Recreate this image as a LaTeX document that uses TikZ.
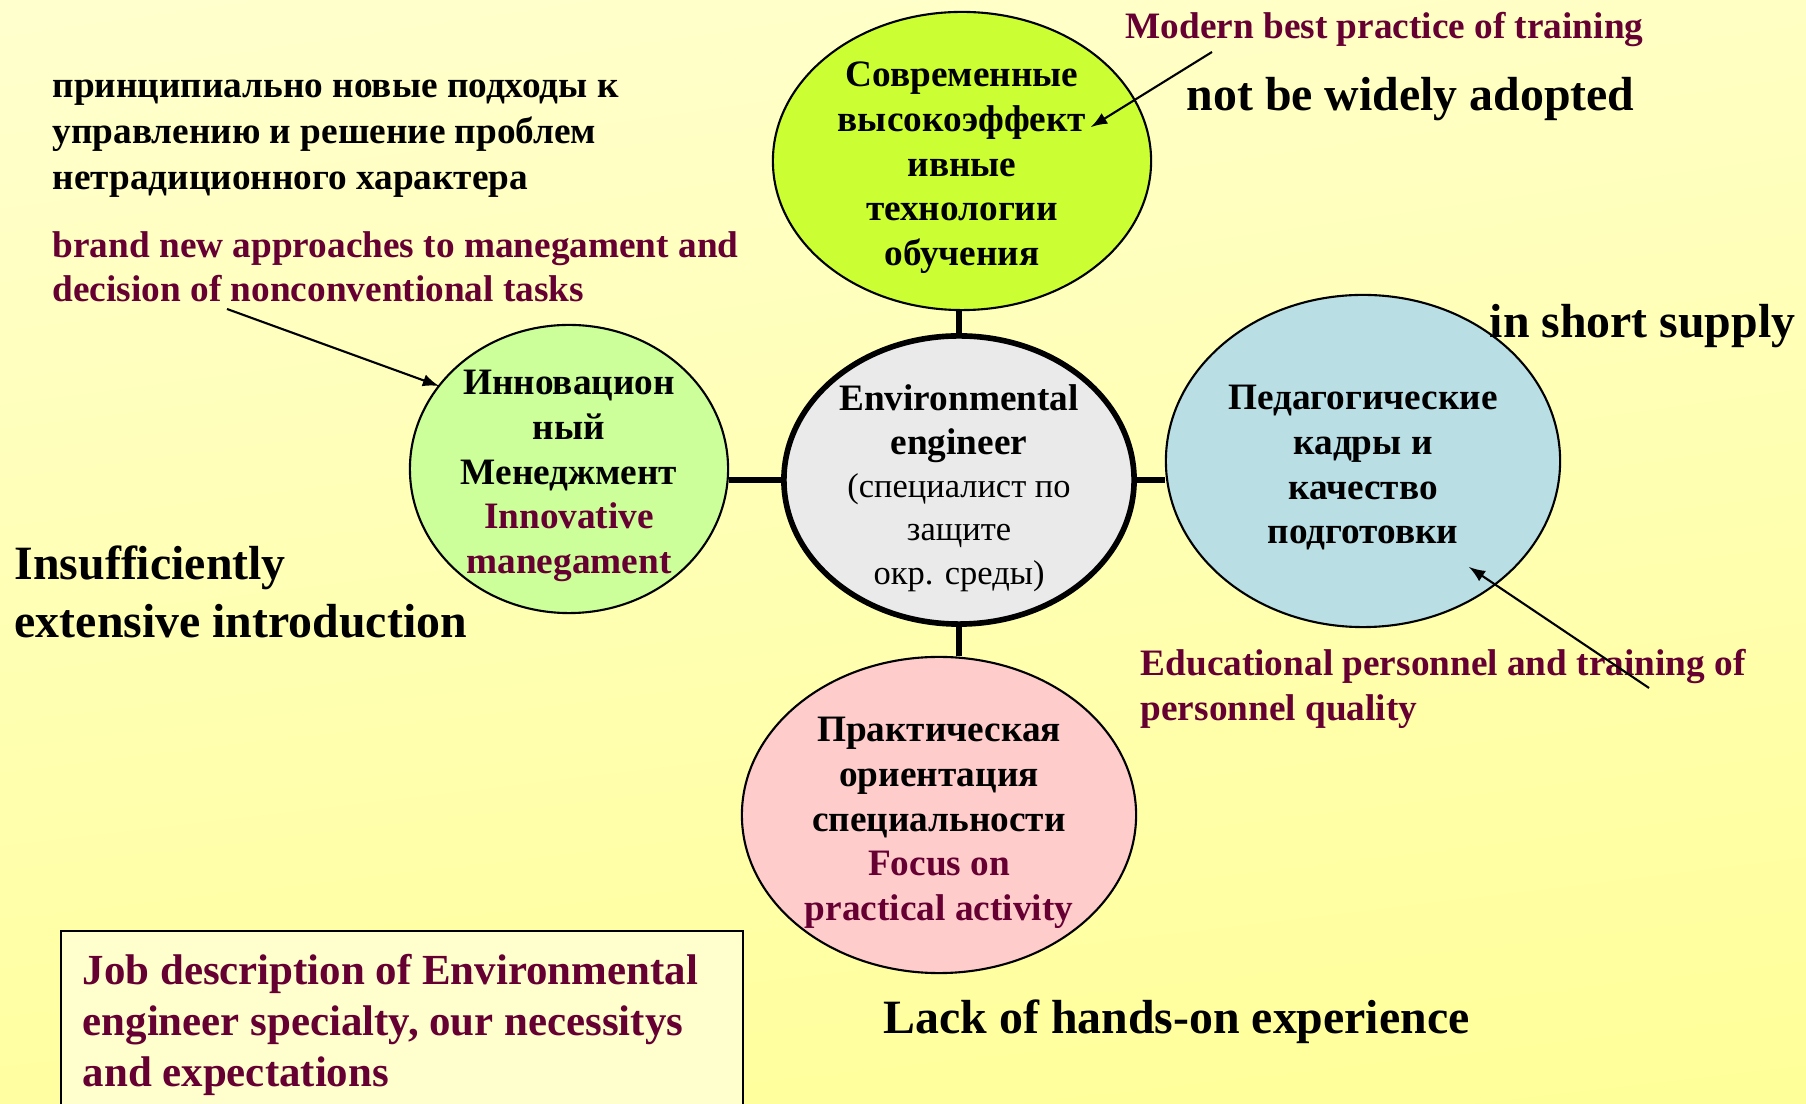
\documentclass[tikz,border=0pt]{standalone}
\usepackage{fontspec}
\setmainfont{Liberation Serif}
\usetikzlibrary{shapes.geometric,shadings}
\definecolor{maroon}{HTML}{660033}
\definecolor{bgtop}{HTML}{FFFFCE}
\definecolor{bgbot}{HTML}{FFFF99}
\colorlet{bgright}{bgtop!80!bgbot}
\colorlet{bgleft}{bgbot!85!bgtop}
\newcommand{\reg}[1]{{\mdseries\fontsize{9.8}{12}\selectfont #1}}
\tikzset{>=latex}
\tikzset{
  blob/.style = {ellipse, draw, line width=0.6pt, inner sep=0pt},
  txt/.style = {font=\bfseries\fontsize{10.6}{12.7}\selectfont, align=center, inner sep=0pt},
  note/.style = {font=\bfseries\fontsize{10.6}{12.6}\selectfont, align=left, anchor=west, inner sep=0pt},
  big/.style = {font=\bfseries\fontsize{13.6}{16.4}\selectfont, align=left, anchor=west, inner sep=0pt},
  link/.style = {line width=1.5pt},
  pointer/.style = {->, line width=0.6pt}
}

\begin{document}
\begin{tikzpicture}[x=0.01cm,y=-0.01cm]
  \useasboundingbox (0,0) rectangle (1806,1104);
  % background
  \shade[upper left=bgtop, upper right=bgright, lower left=bgleft, lower right=bgbot]
    (0,0) rectangle (1806,1104);
  % ellipses
  \node[blob, fill={rgb,255:red,204;green,255;blue,51}, minimum width=3.78cm, minimum height=2.98cm] (top) at (962,161) {};
  \node[blob, fill={rgb,255:red,204;green,255;blue,153}, minimum width=3.18cm, minimum height=2.88cm] (left) at (569,469) {};
  \node[blob, fill={rgb,255:red,234;green,234;blue,234}, line width=1.6pt, minimum width=3.50cm, minimum height=2.88cm] (env) at (959,480) {};
  \node[blob, fill={rgb,255:red,185;green,223;blue,229}, minimum width=3.94cm, minimum height=3.32cm] (right) at (1363,461) {};
  \node[blob, fill={rgb,255:red,255;green,204;blue,204}, minimum width=3.94cm, minimum height=3.16cm] (bottom) at (939,815) {};
  % links
  \draw[link] (env.north) -- (env.north |- top.south);
  \draw[link] (env.west) -- (env.west -| left.east);
  \draw[link] (env.east) -- (env.east -| right.west);
  \draw[link] (env.south) -- (env.south |- bottom.north);
  % ellipse texts
  \node[txt] (top-t) at ([yshift=-0.07cm]top) {Современные\\высокоэффект\\ивные\\технологии\\обучения};
  \node[txt] (left-t) at ([yshift=-0.07cm]left) {Инновацион\\ный\\Менеджмент\\\textcolor{maroon}{Innovative}\\\textcolor{maroon}{manegament}};
  \node[txt] (env-t) at ([yshift=-0.08cm]env) {Environmental\\engineer\\[-0.5pt]\reg{(специалист по}\\[-0.5pt]\reg{защите}\\[-0.3pt]\reg{окр. среды)}};
  \node[txt] (right-t) at ([yshift=-0.07cm]right) {Педагогические\\кадры и\\качество\\подготовки};
  \node[txt] (bottom-t) at ([yshift=-0.08cm]bottom) {Практическая\\ориентация\\специальности\\\textcolor{maroon}{Focus on}\\\textcolor{maroon}{practical activity}};
  % notes
  \node[note, font=\bfseries\fontsize{10.6}{13.1}\selectfont] (ru-note) at (52,139) {принципиально новые подходы к\\управлению и решение проблем\\нетрадиционного характера};
  \node[note, text=maroon] (en-note) at (52,267) {brand new approaches to manegament and\\decision of nonconventional tasks};
  \node[note, text=maroon] (best) at (1125,30) {Modern best practice of training};
  \node[note, text=maroon] (edu) at (1140,689) {Educational personnel and training of\\personnel quality};
  \node[big] (adopted) at (1186,99) {not be widely adopted};
  \node[big] (supply) at (1489,326) {in short supply};
  \node[big] (insuff) at (14,592) {Insufficiently\\extensive introduction};
  \node[big] (lack) at (883,1022) {Lack of hands-on experience};
  % pointers
  \coordinate (p1) at (227,309);
  \coordinate (q1) at (439,386);
  \draw[pointer] (p1) -- (q1);
  \coordinate (p2) at (1212,52);
  \coordinate (q2) at (1091,127);
  \draw[pointer] (p2) -- (q2);
  \coordinate (p3) at (1649,688);
  \coordinate (q3) at (1469,567);
  \draw[pointer] (p3) -- (q3);
  % job box
  \draw[fill=bgtop, line width=0.6pt] (61,931) rectangle (743,1110);
  \node[note, text=maroon, font=\bfseries\fontsize{12.2}{14.4}\selectfont] (job) at (82,1025) {Job description of Environmental\\engineer specialty, our necessitys\\and expectations};
\end{tikzpicture}
\end{document}
